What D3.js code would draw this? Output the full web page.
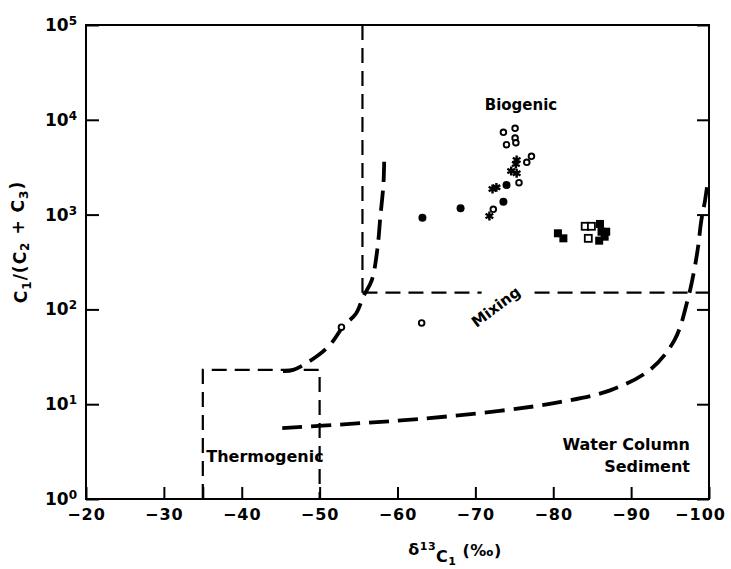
<!DOCTYPE html>
<html>
<head>
<meta charset="utf-8">
<script src="https://cdn.jsdelivr.net/npm/d3@7"></script>
<style>
  html, body { margin: 0; padding: 0; background: #fff; }
  svg { display: block; }
  text { font-family: "DejaVu Sans", sans-serif; font-weight: bold; fill: #000; }
</style>
</head>
<body>
<svg id="chart" width="731" height="569"></svg>
<script>
// ---------- data ----------
const xTickValues = [-20, -30, -35, -40, -50, -60, -70, -80, -90, -100];
const xTickLabels = ["−20", "−30", "", "−40", "−50", "−60", "−70", "−80", "−90", "−100"];
const yTickValues = [1, 10, 100, 1000, 10000, 100000];
const yTickExponents = ["0", "1", "2", "3", "4", "5"];

// open circles
const openCircleX = [-73.6, -75.1, -75.1, -75.2, -74.0, -77.2, -76.6, -75.6, -72.3, -63.1, -52.8];
const openCircleY = [7380, 8130, 6430, 5730, 5460, 4120, 3560, 2170, 1137, 72, 65];
// asterisks
const asteriskX = [-75.3, -75.2, -74.6, -75.3, -72.2, -72.7, -71.8];
const asteriskY = [3770, 3420, 2880, 2730, 1862, 1940, 967];
// filled circles
const filledCircleX = [-63.2, -68.1, -73.6, -74.0];
const filledCircleY = [927, 1165, 1368, 2052];
// open squares
const openSquareX = [-84.1, -84.9, -84.5];
const openSquareY = [753, 753, 562];
// filled squares
const filledSquareX = [-80.6, -81.3, -86.0, -86.2, -86.6, -85.9, -86.8];
const filledSquareY = [635, 562, 797, 660, 585, 531, 660];

// mixing curves
const leftCurveX = [-45.3, -46.6, -49.6, -51.5, -53.0, -54.7, -55.6, -56.7, -57.4, -57.8, -58.2, -58.3];
const leftCurveY = [22.4, 23, 31.8, 43.9, 65.6, 91, 136, 204, 423, 950, 2138, 4250];
const rightCurveX = [-45.2, -53.9, -62.9, -73.1, -80.8, -87.3, -92.4, -95.6, -97.3, -98.1, -98.6, -99.0, -99.5, -99.9];
const rightCurveY = [5.6, 6.2, 7.0, 8.5, 10.5, 14, 23, 48, 130, 260, 458, 853, 1426, 2415];

// field boundaries
const biogenicBoundaryX = [-55.5, -55.5];
const biogenicBoundaryY = [100000, 150];
const mixingLineSegmentsX = [[-55.5, -70.8], [-77.6, -100]];
const mixingLineY = 150;
const thermoBoxX = [-35, -50];
const thermoBoxY = [1, 23];

// ---------- drawing ----------
const svg = d3.select("#chart");
const mLeft = 86, mRight = 709, mTop = 25, mBottom = 499;
const x = d3.scaleLinear().domain([-20, -100]).range([mLeft, mRight]);
const y = d3.scaleLog().domain([1, 100000]).range([mBottom, mTop]);

const thin = { w: 2.2, dash: "15,8" };
const thick = { w: 3.8, dash: "20,9" };

// field boundary lines
const g = svg.append("g");
g.append("line")
  .attr("x1", x(biogenicBoundaryX[0])).attr("x2", x(biogenicBoundaryX[1]))
  .attr("y1", y(biogenicBoundaryY[0])).attr("y2", y(biogenicBoundaryY[1]))
  .attr("stroke", "#000").attr("stroke-width", thin.w).attr("stroke-dasharray", thin.dash);
mixingLineSegmentsX.forEach(s => {
  g.append("line")
    .attr("x1", x(s[0])).attr("x2", x(s[1]))
    .attr("y1", y(mixingLineY)).attr("y2", y(mixingLineY))
    .attr("stroke", "#000").attr("stroke-width", thin.w).attr("stroke-dasharray", thin.dash);
});
g.append("path")
  .attr("d", d3.line()([
    [x(thermoBoxX[0]), y(thermoBoxY[0])],
    [x(thermoBoxX[0]), y(thermoBoxY[1])],
    [x(thermoBoxX[1]), y(thermoBoxY[1])],
    [x(thermoBoxX[1]), y(thermoBoxY[0])]
  ]))
  .attr("fill", "none").attr("stroke", "#000").attr("stroke-width", thin.w).attr("stroke-dasharray", thin.dash);

// curves
const curveLine = d3.line().x(d => x(d[0])).y(d => y(d[1])).curve(d3.curveCatmullRom.alpha(0.5));
[[leftCurveX, leftCurveY], [rightCurveX, rightCurveY]].forEach(([cx, cy]) => {
  g.append("path")
    .attr("d", curveLine(cx.map((v, i) => [v, cy[i]])))
    .attr("fill", "none").attr("stroke", "#000")
    .attr("stroke-width", thick.w).attr("stroke-dasharray", thick.dash);
});

// frame
svg.append("rect").attr("x", mLeft).attr("y", mTop)
  .attr("width", mRight - mLeft).attr("height", mBottom - mTop)
  .attr("fill", "none").attr("stroke", "#000").attr("stroke-width", 2);

// axes
const xAxis = d3.axisBottom(x).tickValues(xTickValues).tickSize(-12).tickPadding(10)
  .tickFormat((d, i) => xTickLabels[i]);
const gx = svg.append("g").attr("transform", `translate(0,${mBottom})`).call(xAxis);
gx.select(".domain").remove();
gx.selectAll("line").attr("stroke", "#000").attr("stroke-width", 2);
gx.selectAll("text").attr("font-size", 16).attr("font-family", "DejaVu Sans").attr("font-weight", "bold")
  .attr("fill", "#000").attr("letter-spacing", 1);
gx.selectAll(".tick").filter(d => d === -100).select("text").attr("dx", -9);

const yAxis = d3.axisLeft(y).tickValues(yTickValues).tickSize(-13).tickPadding(9).tickFormat(() => "");
const gy = svg.append("g").attr("transform", `translate(${mLeft},0)`).call(yAxis);
gy.select(".domain").remove();
gy.selectAll("line").attr("stroke", "#000").attr("stroke-width", 2);
gy.selectAll(".tick text").each(function(d, i) {
  const t = d3.select(this).attr("font-size", 17).attr("font-family", "DejaVu Sans")
    .attr("font-weight", "bold").attr("fill", "#000");
  t.text(null);
  t.append("tspan").text("10");
  t.append("tspan").attr("dy", "-0.5em").attr("font-size", 12).text(yTickExponents[i]);
});

const yAxisR = d3.axisRight(y).tickValues(yTickValues).tickSize(-12).tickFormat(() => "");
const gyr = svg.append("g").attr("transform", `translate(${mRight},0)`).call(yAxisR);
gyr.select(".domain").remove();
gyr.selectAll("line").attr("stroke", "#000").attr("stroke-width", 2);

// points
const pts = svg.append("g");
pts.selectAll("circle.open").data(openCircleX.map((v, i) => [v, openCircleY[i]])).join("circle")
  .attr("class", "open").attr("cx", d => x(d[0])).attr("cy", d => y(d[1])).attr("r", 2.8)
  .attr("fill", "#fff").attr("stroke", "#000").attr("stroke-width", 1.9);
pts.selectAll("circle.filled").data(filledCircleX.map((v, i) => [v, filledCircleY[i]])).join("circle")
  .attr("class", "filled").attr("cx", d => x(d[0])).attr("cy", d => y(d[1])).attr("r", 4)
  .attr("fill", "#000");
pts.selectAll("path.ast").data(asteriskX.map((v, i) => [v, asteriskY[i]])).join("path")
  .attr("class", "ast").attr("transform", d => `translate(${x(d[0])},${y(d[1])})`)
  .attr("d", d3.symbol(d3.symbolAsterisk, 55)).attr("fill", "none").attr("stroke", "#000").attr("stroke-width", 2.4);
pts.selectAll("rect.osq").data(openSquareX.map((v, i) => [v, openSquareY[i]])).join("rect")
  .attr("class", "osq").attr("x", d => x(d[0]) - 3.5).attr("y", d => y(d[1]) - 3.5)
  .attr("width", 7).attr("height", 7).attr("fill", "#fff").attr("stroke", "#000").attr("stroke-width", 1.8);
pts.selectAll("rect.fsq").data(filledSquareX.map((v, i) => [v, filledSquareY[i]])).join("rect")
  .attr("class", "fsq").attr("x", d => x(d[0]) - 4).attr("y", d => y(d[1]) - 4)
  .attr("width", 8).attr("height", 8).attr("fill", "#000");

// annotations
svg.append("text").attr("x", 521).attr("y", 110).attr("text-anchor", "middle")
  .attr("font-size", 15).text("Biogenic");
svg.append("text").attr("x", 265).attr("y", 462).attr("text-anchor", "middle")
  .attr("font-size", 16).text("Thermogenic");
svg.append("text").attr("x", 690).attr("y", 450).attr("text-anchor", "end")
  .attr("font-size", 16).text("Water Column");
svg.append("text").attr("x", 690).attr("y", 472).attr("text-anchor", "end")
  .attr("font-size", 16).text("Sediment");
svg.append("text").attr("transform", "translate(499,311) rotate(-37)").attr("text-anchor", "middle")
  .attr("font-size", 15).text("Mixing");

// axis titles
const yl = svg.append("text").attr("transform", "translate(27,242) rotate(-90)")
  .attr("text-anchor", "middle").attr("font-size", 17).attr("letter-spacing", 1);
yl.append("tspan").text("C");
yl.append("tspan").attr("dy", "0.3em").attr("font-size", 12).text("1");
yl.append("tspan").attr("dy", "-0.3em").text("/(C");
yl.append("tspan").attr("dy", "0.3em").attr("font-size", 12).text("2");
yl.append("tspan").attr("dy", "-0.3em").text(" + C");
yl.append("tspan").attr("dy", "0.3em").attr("font-size", 12).text("3");
yl.append("tspan").attr("dy", "-0.3em").text(")");

const xl = svg.append("text").attr("x", 455).attr("y", 555)
  .attr("text-anchor", "middle").attr("font-size", 16).attr("letter-spacing", 0.5);
xl.append("tspan").text("δ");
xl.append("tspan").attr("dy", "-0.5em").attr("font-size", 11).text("13");
xl.append("tspan").attr("dy", "0.75em").text("C");
xl.append("tspan").attr("dy", "0.3em").attr("font-size", 11).text("1");
xl.append("tspan").attr("dy", "-0.55em").text(" (‰)");
</script>
</body>
</html>
